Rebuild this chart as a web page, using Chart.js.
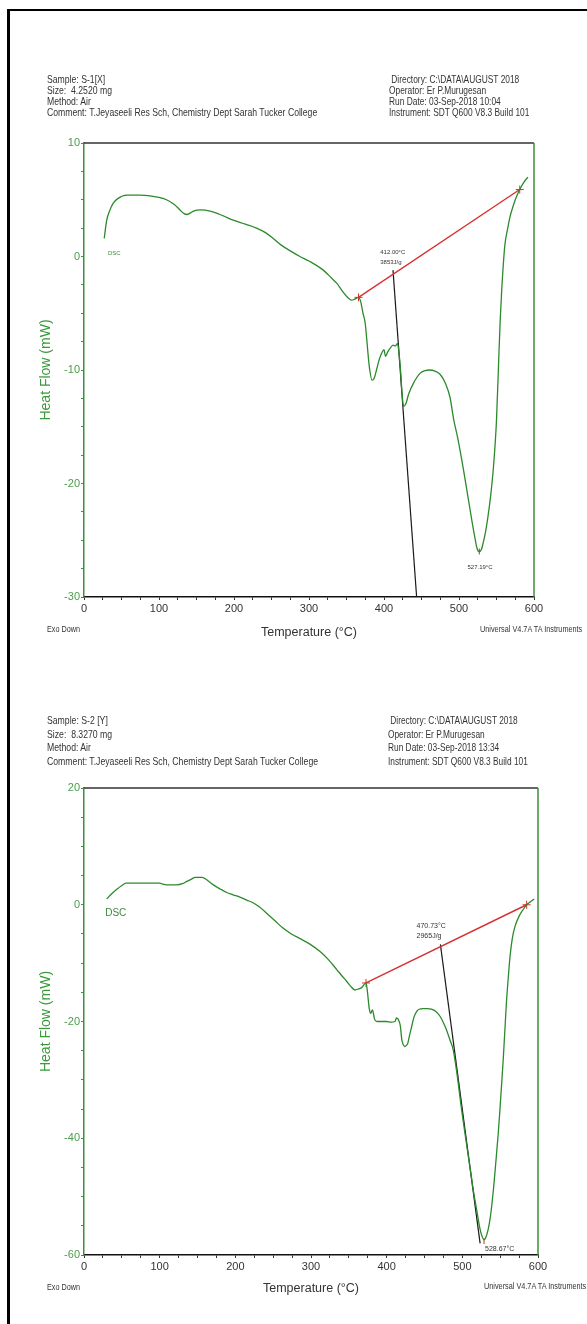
<!DOCTYPE html>
<html>
<head>
<meta charset="utf-8">
<script src="https://cdn.jsdelivr.net/npm/chart.js@4.4.1/dist/chart.umd.min.js"></script>
<style>
  html, body { margin: 0; padding: 0; background: #fff; }
  body { width: 587px; height: 1324px; position: relative; overflow: hidden; font-family: 'Liberation Sans', Arial, sans-serif; }
  .frame { position: absolute; left: 7px; top: 9px; width: 640px; height: 1400px; border-left: 3px solid #000; border-top: 2px solid #000; }
  canvas { position: absolute; left: 0; }
  .txt { position: absolute; white-space: nowrap; color: #333; transform-origin: 0 0; }
  .hdr1 { font-size: 11px; line-height: 11px; }
  .hdr2 { font-size: 11.5px; line-height: 13.5px; }
  .foot { font-size: 9px; line-height: 10px; }
</style>
</head>
<body>
<div class="frame"></div>
<canvas id="dsc1" width="587" height="650" style="top:0"></canvas>
<canvas id="dsc2" width="587" height="674" style="top:650px"></canvas>

<div class="txt hdr1" data-w="270" style="left:47px; top:74px">Sample: S-1[X]<br>Size:&nbsp; 4.2520 mg<br>Method: Air<br>Comment: T.Jeyaseeli Res Sch, Chemistry Dept Sarah Tucker College</div>
<div class="txt hdr1" data-w="140" style="left:389px; top:74px">&nbsp;Directory: C:\DATA\AUGUST 2018<br>Operator: Er P.Murugesan<br>Run Date: 03-Sep-2018 10:04<br>Instrument: SDT Q600 V8.3 Build 101</div>
<div class="txt foot" data-w="33" style="left:47px; top:624px">Exo Down</div>
<div class="txt foot" data-w="102" style="left:480px; top:624px">Universal V4.7A TA Instruments</div>

<div class="txt hdr2" data-w="271" style="left:47px; top:714px">Sample: S-2 [Y]<br>Size:&nbsp; 8.3270 mg<br>Method: Air<br>Comment: T.Jeyaseeli Res Sch, Chemistry Dept Sarah Tucker College</div>
<div class="txt hdr2" data-w="140" style="left:388px; top:714px">&nbsp;Directory: C:\DATA\AUGUST 2018<br>Operator: Er P.Murugesan<br>Run Date: 03-Sep-2018 13:34<br>Instrument: SDT Q600 V8.3 Build 101</div>
<div class="txt foot" data-w="33" style="left:47px; top:1282px">Exo Down</div>
<div class="txt foot" data-w="102" style="left:484px; top:1281px">Universal V4.7A TA Instruments</div>

<script>
// sample S-1 [X] : temperature (°C) / heat flow (mW)
const s1Temp = [27, 30, 34, 39, 45, 57, 75, 88, 100, 110, 120, 128, 133, 137, 141, 146, 155, 168, 185, 199,
  215, 230, 242, 252, 263, 275, 288, 300, 319, 330, 337, 345, 350, 354, 357, 361, 366, 369, 372, 375,
  377, 379, 381, 384, 387, 390, 394, 397, 400, 402, 405, 408, 412, 415, 418, 420, 422, 424, 426, 429,
  433, 439, 448, 455, 461, 468, 475, 482, 488, 493, 498, 506, 512, 517, 521, 524, 527, 530, 532, 535,
  538, 542, 546, 550, 553, 555, 557, 561, 565, 568, 572, 575, 581, 587, 592];
const s1Heat = [1.6, 3.1, 4.0, 4.7, 5.1, 5.4, 5.4, 5.35, 5.2, 5.0, 4.6, 4.1, 3.8, 3.7, 3.8, 4.0, 4.1, 4.0, 3.6, 3.2,
  2.85, 2.5, 2.1, 1.6, 1.0, 0.5, 0.0, -0.4, -1.2, -1.9, -2.35, -3.1, -3.5, -3.75, -3.85, -3.75, -3.6, -4.0, -5.0, -5.9,
  -7.3, -8.8, -10.0, -10.9, -10.7, -10.0, -9.0, -8.5, -8.2, -8.8, -8.4, -8.1, -7.8, -7.9, -7.65, -8.5, -10.0, -12.0, -13.2, -13.0,
  -12.1, -11.2, -10.3, -10.05, -10.0, -10.1, -10.4, -11.2, -12.4, -14.4, -15.9, -18.8, -21.2, -23.2, -24.7, -25.7, -26.0, -25.8, -25.3, -24.4,
  -23.2, -21.2, -18.5, -14.4, -9.0, -5.5, -2.9, 0.9, 2.5, 3.5, 4.4, 5.0, 5.9, 6.6, 7.0];
const s1BaseTemp = [366, 581];
const s1BaseHeat = [-3.6, 5.9];
const s1TanTemp = [412, 443.5];
const s1TanHeat = [-1.2, -30];
const s1PeakTemp = [527.19];
const s1PeakHeat = [-26.0];
const s1YTicks = [10, 0, -10, -20, -30];

// sample S-2 [Y]
const s2Temp = [30, 36, 43, 50, 55.5, 70, 85, 100, 105, 115, 122.5, 130, 136, 142, 147, 156, 163, 171, 180, 188.5,
  197, 206, 215, 224, 232, 241, 252, 263, 274, 285.5, 298, 312, 323, 334, 341, 347, 352, 358, 363, 367,
  372.7, 374.5, 375.7, 377, 379, 381, 382, 384, 387, 393, 400, 406, 411, 413, 415, 418, 420, 422, 424, 426,
  428, 430, 433, 436, 439.5, 443, 448, 454, 459, 465, 470.5, 475, 479, 484, 488, 493, 499, 505, 510, 515,
  519, 523, 525.5, 528.6, 531, 534, 537, 541, 544, 547.5, 550, 552, 554, 556, 558.5, 561, 563, 566, 569.6, 576,
  580, 585, 590, 595];
const s2Heat = [1.0, 1.8, 2.6, 3.3, 3.7, 3.7, 3.7, 3.7, 3.5, 3.4, 3.4, 3.6, 4.0, 4.4, 4.7, 4.7, 4.2, 3.4, 2.7, 2.1,
  1.7, 1.3, 0.8, 0.3, -0.4, -1.4, -2.7, -4.0, -5.0, -5.8, -6.7, -8.0, -9.4, -11.1, -12.2, -13.1, -13.9, -14.6, -14.4, -14.2,
  -13.4, -14.8, -16.3, -17.8, -18.6, -18.0, -18.3, -19.6, -20.0, -20.0, -20.0, -20.1, -20.0, -19.4, -19.6, -20.7, -23.1, -24.0, -24.3, -24.1,
  -23.7, -22.5, -20.9, -19.3, -18.3, -17.9, -17.8, -17.8, -17.9, -18.3, -19.1, -20.2, -21.4, -23.3, -24.9, -29.0, -35.1, -40.5, -44.9, -49.3,
  -52.3, -55.3, -56.6, -57.4, -57.0, -55.7, -53.5, -48.9, -44.5, -39.1, -34.5, -30.6, -26.6, -22.0, -16.3, -12.0, -8.9, -5.8, -3.7, -1.7,
  -0.9, 0.0, 0.5, 1.0];
const s2BaseTemp = [372.7, 585];
const s2BaseHeat = [-13.4, 0.0];
const s2TanTemp = [471, 523.5];
const s2TanHeat = [-6.8, -58];
const s2PeakTemp = [528.67];
const s2PeakHeat = [-57.6];
const s2YTicks = [20, 0, -20, -40, -60];

const xTicks = [0, 100, 200, 300, 400, 500, 600];

const narrow = '"Liberation Sans Narrow", "Arial Narrow", "Liberation Sans", Arial, sans-serif';
const green = '#3d8f3d';

function pts(xs, ys) {
  return xs.map((x, i) => ({ x: x, y: ys[i] }));
}

const extras = {
  id: 'extras',
  afterDatasetsDraw(chart, args, opts) {
    const { ctx, chartArea: a } = chart;
    const x = chart.scales.x, y = chart.scales.y;
    ctx.save();
    ctx.lineWidth = 1.5;
    ctx.strokeStyle = '#333';
    ctx.beginPath(); ctx.moveTo(a.left, a.top); ctx.lineTo(a.right, a.top); ctx.stroke();
    ctx.strokeStyle = green;
    ctx.beginPath(); ctx.moveTo(a.right, a.top); ctx.lineTo(a.right, a.bottom); ctx.stroke();
    ctx.textBaseline = 'middle';
    (opts.notes || []).forEach(n => {
      ctx.font = n.font;
      ctx.fillStyle = n.color;
      ctx.textAlign = n.align || 'left';
      ctx.fillText(n.text, x.getPixelForValue(n.x), y.getPixelForValue(n.y));
    });
    ctx.restore();
  }
};

function dscChart(id, d) {
  return new Chart(document.getElementById(id), {
    type: 'line',
    data: {
      datasets: [
        { data: pts(d.temp, d.heat), borderColor: '#2b8a2b', borderWidth: 1.3, pointRadius: 0, cubicInterpolationMode: 'monotone' },
        { data: pts(d.baseT, d.baseH), borderColor: '#d83030', borderWidth: 1.4, pointStyle: 'cross', pointRadius: 4, pointBorderColor: '#d83030', pointBorderWidth: 1 },
        { data: pts(d.tanT, d.tanH), borderColor: '#1a1a1a', borderWidth: 1.2, pointRadius: 0 },
        { data: pts(d.peakT, d.peakH), showLine: false, pointStyle: 'line', rotation: 90, pointRadius: 3, pointBorderColor: '#c0603a', pointBorderWidth: 1.2 }
      ]
    },
    options: {
      responsive: false,
      animation: false,
      layout: { padding: d.pad },
      plugins: {
        legend: { display: false },
        tooltip: { enabled: false },
        extras: { notes: d.notes }
      },
      scales: {
        x: {
          type: 'linear', min: 0, max: 600,
          afterFit(s) { s.height = 45; },
          border: { color: '#111', width: 1.5 },
          grid: { drawOnChartArea: false, tickLength: 3, color: '#333' },
          ticks: { stepSize: 25, autoSkip: false, maxRotation: 0, padding: 2, color: '#333',
            font: { family: narrow, size: 11 },
            callback: v => xTicks.includes(v) ? String(v) : '' },
          title: { display: true, text: 'Temperature (°C)', color: '#333', padding: { top: 0, bottom: d.xTitlePad },
            font: { family: narrow, size: 12.5 } }
        },
        y: {
          min: d.yMin, max: d.yMax,
          afterFit(s) { s.width = 48; },
          border: { color: green, width: 1.5 },
          grid: { drawOnChartArea: false, tickLength: 3, color: green },
          ticks: { stepSize: d.yStep, autoSkip: false, padding: 1, color: '#4c9c4c',
            font: { family: narrow, size: 11 },
            callback: v => d.yTicks.includes(v) ? String(v) : '' },
          title: { display: true, text: 'Heat Flow (mW)', color: '#3a9a3a', padding: { top: 2, bottom: 0 },
            font: { family: 'Liberation Sans, Arial, sans-serif', size: 14 } }
        }
      }
    },
    plugins: [extras]
  });
}

dscChart('dsc1', {
  temp: s1Temp, heat: s1Heat, baseT: s1BaseTemp, baseH: s1BaseHeat, tanT: s1TanTemp, tanH: s1TanHeat,
  peakT: s1PeakTemp, peakH: s1PeakHeat, yTicks: s1YTicks,
  yMin: -30, yMax: 10, yStep: 2.5,
  pad: { left: 36, top: 143, right: 53, bottom: 8 }, xTitlePad: 2,
  notes: [
    { text: 'DSC', x: 32, y: 0.3, font: '6px ' + narrow, color: '#3a8a3a' },
    { text: '412.00°C', x: 395, y: 0.35, font: '6px ' + narrow, color: '#333' },
    { text: '3853J/g', x: 395, y: -0.5, font: '6px ' + narrow, color: '#333' },
    { text: '527.19°C', x: 528, y: -27.4, font: '6px ' + narrow, color: '#333', align: 'center' }
  ]
});

dscChart('dsc2', {
  temp: s2Temp, heat: s2Heat, baseT: s2BaseTemp, baseH: s2BaseHeat, tanT: s2TanTemp, tanH: s2TanHeat,
  peakT: s2PeakTemp, peakH: s2PeakHeat, yTicks: s2YTicks,
  yMin: -60, yMax: 20, yStep: 5,
  pad: { left: 36, top: 138, right: 49, bottom: 24 }, xTitlePad: 4,
  notes: [
    { text: 'DSC', x: 28, y: -1.4, font: '10px ' + narrow, color: '#3a8a3a' },
    { text: '470.73°C', x: 439.5, y: -3.7, font: '7px ' + narrow, color: '#333' },
    { text: '2965J/g', x: 439.5, y: -5.4, font: '7px ' + narrow, color: '#333' },
    { text: '528.67°C', x: 530, y: -59.0, font: '7px ' + narrow, color: '#333' }
  ]
});

// squeeze header text to the narrow width it has in the printout
document.querySelectorAll('.txt[data-w]').forEach(el => {
  const k = parseFloat(el.dataset.w) / el.offsetWidth;
  el.style.transform = 'scaleX(' + k.toFixed(3) + ')';
});
</script>
</body>
</html>
